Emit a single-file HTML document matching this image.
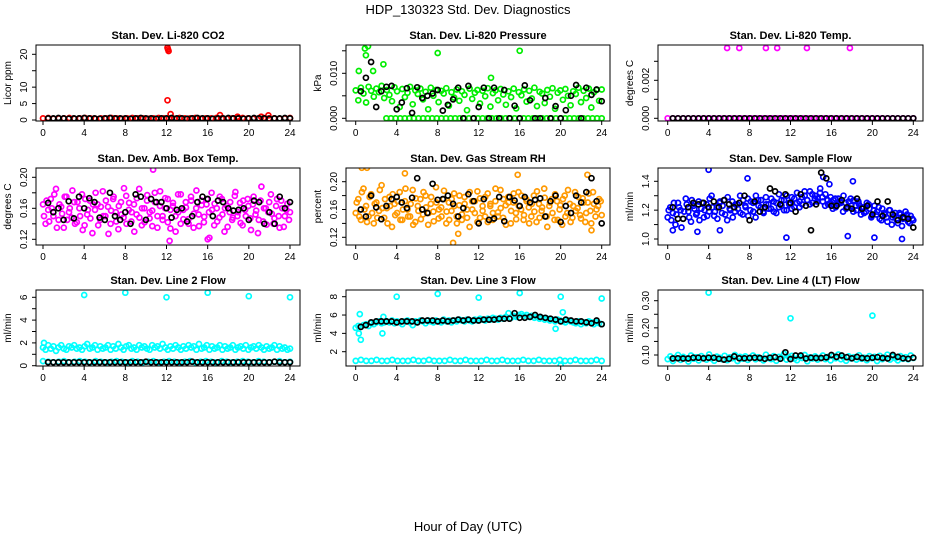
<!DOCTYPE html>
<html><head><meta charset="utf-8"><title>HDP_130323 Std. Dev. Diagnostics</title>
<style>
html,body{margin:0;padding:0;background:#fff;}
svg{display:block;font-family:"Liberation Sans",Arial,sans-serif;}
</style></head>
<body>
<svg id="chart" width="936" height="540" viewBox="0 0 936 540" xmlns="http://www.w3.org/2000/svg">
<text x="468" y="14" text-anchor="middle" font-size="13">HDP_130323  Std. Dev. Diagnostics</text>
<text x="468" y="531" text-anchor="middle" font-size="13">Hour of Day (UTC)</text>
</svg>
<script>
// ---------- data ----------
const hourTicks = [0,4,8,12,16,20,24];
const co2Color = [0.5,0.6,0.4,0.5,0.5,0.6,0.4,0.5,0.6,0.5,0.4,0.5,0.5,0.6,0.5,0.4,0.5,0.6,0.5,0.5,0.4,0.5,0.6,0.5,0.5,0.4,0.6,0.5,0.5,0.6,0.4,0.5,0.5,0.6,0.5,0.4,0.5,0.5,0.6,0.5,0.4,0.5,0.6,0.5,0.5,0.4,0.5,0.6];
const co2Black = [0.5,0.5,0.6,0.5,0.4,0.5,0.5,0.6,0.5,0.5,0.4,0.5,0.6,0.5,0.5,0.5,0.4,0.5,0.6,0.5,0.5,0.4,0.5,0.5,0.6,0.5,0.5,0.4,0.5,0.6,0.5,0.5,0.4,0.5,0.5,0.6,0.5,0.5,0.4,0.5,0.6,0.5,0.5,0.4,0.5,0.5,0.6,0.5];
const co2OutX = [12.1,12.15,12.2,12.1,12.4,17.2,18.9,21.2,21.9];
const co2OutY = [22,21.5,21,6,1.8,1.5,1.0,1.0,1.4];

const presColor = [0.0062,0.0040,0.0068,0.0055,0.0035,0.0070,0.0061,0.0048,0.0066,0.0058,0.0072,0.0045,0.0063,0.0052,0.0038,0.0069,0.0060,0.0025,0.0065,0.0047,0.0057,0.0070,0.0031,0.0062,0.0054,0.0066,0.0042,0.0059,0.0020,0.0068,0.0050,0.0063,0.0036,0.0061,0.0055,0.0067,0.0028,0.0058,0.0046,0.0064,0.0039,0.0060,0.0052,0.0018,0.0066,0.0043,0.0057,0.0063,0.0033,0.0061,0.0049,0.0067,0.0026,0.0056,0.0062,0.0040,0.0065,0.0053,0.0030,0.0060,0.0047,0.0066,0.0022,0.0058,0.0051,0.0064,0.0037,0.0061,0.0044,0.0068,0.0027,0.0059,0.0055,0.0034,0.0063,0.0048,0.0067,0.0021,0.0057,0.0062,0.0041,0.0065,0.0050,0.0029,0.0060,0.0054,0.0068,0.0036,0.0061,0.0045,0.0066,0.0024,0.0058,0.0063,0.0039,0.0064];
const presZeros = [0,0,0,0,0,0,0,0,0,0,0,0,0,0,0,0,0,0,0,0,0,0,0,0,0,0,0,0,0,0,0,0,0,0,0,0,0,0,0,0,0,0,0,0,0,0,0,0];
const presBlack = [0.0060,0.0090,0.0125,0.0025,0.0060,0.0070,0.0072,0.0020,0.0035,0.0067,0.0012,0.0069,0.0045,0.0050,0.0055,0.0063,0.0017,0.0030,0.0042,0.0068,0.0000,0.0072,0.0000,0.0025,0.0068,0.0000,0.0068,0.0000,0.0063,0.0000,0.0028,0.0000,0.0073,0.0040,0.0000,0.0000,0.0045,0.0000,0.0027,0.0000,0.0018,0.0050,0.0074,0.0000,0.0068,0.0052,0.0064,0.0038];
const presOutX = [0.9,1.2,1.0,8.0,16.0,24.0,0.3,1.7,2.7,13.2];
const presOutY = [0.0155,0.016,0.014,0.0145,0.015,0.017,0.0105,0.0105,0.012,0.009];

const tempColor = [0,0,0,0,0,0,0,0,0,0,0,0,0,0,0,0,0,0,0,0,0,0,0,0,0,0,0,0,0,0,0,0,0,0,0,0,0,0,0,0,0,0,0,0,0,0,0,0];
const tempBlack = [0,0,0,0,0,0,0,0,0,0,0,0,0,0,0,0,0,0,0,0,0,0,0,0,0,0,0,0,0,0,0,0,0,0,0,0,0,0,0,0,0,0,0,0,0,0,0,0];
const tempOutX = [5.8,7.0,9.6,10.7,13.6,17.8];
const tempOutY = [0.0037,0.0037,0.0037,0.0037,0.0037,0.0037];

const ambColor = [0.165,0.140,0.158,0.172,0.150,0.185,0.145,0.162,0.135,0.175,0.155,0.148,0.168,0.142,0.160,0.178,0.138,0.152,0.170,0.128,0.158,0.165,0.145,0.182,0.150,0.162,0.140,0.172,0.155,0.133,0.168,0.148,0.176,0.158,0.143,0.165,0.152,0.185,0.138,0.160,0.170,0.147,0.157,0.180,0.135,0.163,0.150,0.173,0.142,0.158,0.167,0.130,0.155,0.178,0.146,0.161,0.140,0.170,0.153,0.183,0.137,0.164,0.149,0.172,0.122,0.158,0.166,0.143,0.175,0.152,0.160,0.136,0.168,0.148,0.181,0.155,0.141,0.170,0.150,0.163,0.132,0.175,0.157,0.145,0.188,0.160,0.139,0.168,0.153,0.147,0.172,0.135,0.160,0.150,0.166,0.155];
const ambColor2 = [0.150,0.170,0.143,0.160,0.178,0.135,0.165,0.153,0.175,0.145,0.160,0.183,0.140,0.168,0.150,0.132,0.172,0.158,0.147,0.165,0.180,0.138,0.162,0.150,0.170,0.127,0.157,0.175,0.143,0.163,0.152,0.186,0.140,0.167,0.155,0.130,0.173,0.148,0.160,0.142,0.177,0.155,0.137,0.168,0.150,0.182,0.145,0.160,0.172,0.134,0.163,0.150,0.178,0.140,0.158,0.168,0.146,0.175,0.135,0.160,0.152,0.170,0.142,0.165,0.155,0.180,0.138,0.160,0.148,0.172,0.130,0.163,0.155,0.145,0.176,0.150,0.167,0.138,0.158,0.172,0.147,0.165,0.152,0.128,0.170,0.143,0.160,0.155,0.178,0.140,0.163,0.150,0.170,0.136,0.158,0.145];
const ambBlack = [0.167,0.155,0.160,0.145,0.169,0.147,0.175,0.160,0.173,0.168,0.148,0.145,0.180,0.150,0.145,0.155,0.140,0.178,0.175,0.145,0.172,0.168,0.168,0.160,0.148,0.158,0.160,0.143,0.150,0.168,0.175,0.172,0.150,0.170,0.168,0.160,0.157,0.158,0.160,0.145,0.170,0.168,0.140,0.155,0.140,0.175,0.160,0.168];
const ambOutX = [10.7,16.0,12.3];
const ambOutY = [0.21,0.12,0.118];

const rhColor = [0.155,0.175,0.145,0.190,0.165,0.150,0.182,0.140,0.170,0.158,0.195,0.148,0.162,0.178,0.135,0.168,0.155,0.185,0.145,0.172,0.160,0.150,0.188,0.142,0.165,0.175,0.153,0.180,0.138,0.168,0.157,0.192,0.147,0.163,0.175,0.140,0.170,0.158,0.183,0.150,0.166,0.145,0.178,0.160,0.135,0.172,0.155,0.186,0.148,0.165,0.178,0.142,0.168,0.155,0.190,0.150,0.162,0.175,0.138,0.170,0.158,0.183,0.146,0.165,0.180,0.152,0.172,0.140,0.168,0.157,0.186,0.148,0.163,0.177,0.135,0.170,0.155,0.182,0.145,0.166,0.175,0.150,0.188,0.142,0.165,0.158,0.178,0.147,0.170,0.155,0.183,0.140,0.168,0.160,0.175,0.152];
const rhColor2 = [0.170,0.150,0.185,0.160,0.142,0.178,0.155,0.168,0.148,0.188,0.162,0.175,0.140,0.165,0.182,0.152,0.172,0.145,0.160,0.190,0.150,0.168,0.138,0.176,0.158,0.146,0.185,0.163,0.155,0.178,0.143,0.170,0.160,0.150,0.187,0.157,0.145,0.175,0.165,0.140,0.180,0.153,0.168,0.148,0.185,0.160,0.172,0.142,0.176,0.158,0.150,0.183,0.165,0.145,0.172,0.156,0.188,0.148,0.166,0.178,0.140,0.170,0.155,0.185,0.160,0.145,0.175,0.163,0.150,0.180,0.142,0.168,0.158,0.190,0.150,0.165,0.175,0.145,0.172,0.160,0.138,0.180,0.155,0.168,0.148,0.185,0.162,0.152,0.176,0.142,0.170,0.158,0.185,0.150,0.165,0.172];
const rhBlack = [0.160,0.150,0.180,0.163,0.146,0.165,0.175,0.178,0.170,0.162,0.177,0.205,0.160,0.155,0.197,0.174,0.175,0.180,0.168,0.150,0.162,0.182,0.172,0.140,0.175,0.145,0.147,0.178,0.143,0.178,0.173,0.165,0.178,0.170,0.174,0.176,0.150,0.172,0.180,0.142,0.165,0.155,0.180,0.170,0.185,0.205,0.172,0.140];
const rhOutX = [0.6,1.1,9.5,23.0,22.6,4.8,10.0,15.8];
const rhOutY = [0.22,0.22,0.112,0.13,0.21,0.212,0.125,0.21];

const flowColor = [1.15,1.22,1.18,1.10,1.25,1.20,1.14,1.28,1.19,1.12,1.23,1.17,1.26,1.21,1.15,1.24,1.19,1.30,1.16,1.22,1.25,1.18,1.27,1.13,1.21,1.26,1.19,1.24,1.30,1.17,1.23,1.28,1.20,1.25,1.15,1.27,1.22,1.19,1.29,1.24,1.21,1.26,1.18,1.31,1.23,1.27,1.20,1.25,1.29,1.22,1.32,1.26,1.24,1.30,1.27,1.33,1.25,1.30,1.28,1.35,1.26,1.31,1.24,1.29,1.27,1.22,1.28,1.25,1.30,1.21,1.26,1.23,1.27,1.20,1.24,1.22,1.18,1.25,1.21,1.16,1.23,1.19,1.14,1.21,1.17,1.12,1.20,1.15,1.18,1.11,1.17,1.14,1.19,1.12,1.16,1.13];
const flowColor2 = [1.20,1.13,1.25,1.17,1.22,1.08,1.19,1.24,1.15,1.27,1.21,1.18,1.13,1.25,1.20,1.16,1.28,1.22,1.19,1.14,1.26,1.23,1.17,1.29,1.20,1.15,1.24,1.21,1.18,1.27,1.22,1.16,1.26,1.19,1.30,1.23,1.27,1.18,1.24,1.21,1.28,1.19,1.25,1.22,1.27,1.20,1.30,1.24,1.21,1.28,1.25,1.22,1.29,1.33,1.27,1.24,1.31,1.28,1.26,1.32,1.29,1.23,1.27,1.25,1.21,1.28,1.24,1.26,1.19,1.25,1.22,1.28,1.19,1.23,1.26,1.17,1.22,1.19,1.24,1.15,1.20,1.17,1.22,1.13,1.18,1.15,1.20,1.10,1.16,1.13,1.18,1.09,1.15,1.17,1.11,1.14];
const flowBlack = [1.22,1.14,1.14,1.22,1.25,1.24,1.25,1.22,1.26,1.22,1.27,1.24,1.22,1.25,1.30,1.13,1.26,1.19,1.22,1.35,1.33,1.24,1.31,1.25,1.19,1.31,1.23,1.06,1.24,1.46,1.42,1.23,1.23,1.27,1.22,1.21,1.28,1.21,1.23,1.17,1.26,1.16,1.26,1.17,1.13,1.15,1.14,1.08];
const flowOutX = [0.5,2.9,4.0,5.1,7.8,11.6,15.2,15.8,17.6,18.1,20.2,22.9];
const flowOutY = [1.06,1.05,1.48,1.06,1.42,1.01,1.43,1.38,1.02,1.40,1.01,1.00];

const line2Color = [1.6,1.4,1.8,1.5,1.7,1.3,1.6,1.8,1.5,1.4,1.7,1.6,1.8,1.5,1.6,1.4,1.7,1.9,1.5,1.6,1.8,1.4,1.7,1.5,1.6,1.8,1.4,1.7,1.5,1.9,1.6,1.4,1.7,1.8,1.5,1.6,1.4,1.8,1.6,1.7,1.5,1.4,1.8,1.6,1.7,1.5,1.9,1.6,1.4,1.7,1.5,1.8,1.6,1.4,1.7,1.5,1.8,1.6,1.7,1.4,1.9,1.5,1.6,1.8,1.4,1.7,1.5,1.6,1.8,1.4,1.7,1.5,1.6,1.8,1.4,1.6,1.7,1.5,1.8,1.4,1.6,1.7,1.5,1.8,1.6,1.4,1.7,1.5,1.6,1.8,1.4,1.7,1.5,1.6,1.4,1.5];
const line2Low = [0.4,0.35,0.3,0.35,0.4,0.3,0.35,0.4,0.35,0.3,0.4,0.35,0.3,0.35,0.4,0.35,0.3,0.4,0.35,0.3,0.35,0.4,0.3,0.35,0.4,0.35,0.3,0.35,0.4,0.3,0.35,0.4,0.35,0.3,0.4,0.35,0.3,0.35,0.4,0.35,0.3,0.4,0.35,0.3,0.35,0.4,0.3,0.35];
const line2Black = [0.3,0.3,0.3,0.3,0.3,0.3,0.3,0.3,0.3,0.3,0.3,0.3,0.3,0.3,0.3,0.3,0.3,0.3,0.3,0.35,0.3,0.3,0.3,0.3,0.3,0.3,0.3,0.3,0.35,0.3,0.3,0.3,0.3,0.3,0.3,0.3,0.3,0.3,0.3,0.3,0.3,0.3,0.3,0.3,0.35,0.3,0.3,0.3];
const line2OutX = [0.1,4.0,8.0,12.0,16.0,20.0,24.0];
const line2OutY = [2.0,6.2,6.4,6.0,6.4,6.1,6.0];

const line3Color = [4.6,4.8,4.7,4.9,5.0,4.8,5.1,5.0,5.2,5.3,5.1,5.2,5.3,5.2,5.4,5.1,5.3,5.2,5.0,5.3,5.4,5.2,4.9,5.3,5.2,5.4,5.3,5.1,5.4,5.3,5.2,5.4,5.3,5.2,5.5,5.3,5.4,5.2,5.4,5.3,5.5,5.4,5.3,5.5,5.4,5.3,5.5,5.4,5.6,5.5,5.4,5.6,5.5,5.7,5.6,5.5,5.7,5.6,5.8,6.2,5.7,5.9,5.8,6.0,6.1,5.9,6.0,5.8,5.9,5.7,5.8,5.6,5.7,5.5,5.6,5.4,5.5,5.3,5.5,5.4,5.3,5.2,5.4,5.3,5.2,5.1,5.3,5.0,5.2,5.1,5.3,5.2,5.0,5.2,5.1,5.0];
const line3Low = [1.0,1.1,1.0,1.0,1.1,1.0,1.0,1.1,1.0,1.0,1.0,1.1,1.0,1.0,1.1,1.0,1.0,1.0,1.1,1.0,1.0,1.1,1.0,1.0,1.0,1.1,1.0,1.0,1.1,1.0,1.0,1.0,1.1,1.0,1.0,1.1,1.0,1.0,1.0,1.1,1.0,1.0,1.1,1.0,1.0,1.0,1.1,1.0];
const line3Black = [4.7,4.9,5.2,5.3,5.3,5.3,5.3,5.2,5.3,5.3,5.3,5.2,5.4,5.4,5.4,5.3,5.4,5.3,5.4,5.5,5.4,5.5,5.4,5.4,5.5,5.5,5.5,5.6,5.6,5.6,6.2,5.7,5.7,5.8,6.0,5.8,5.7,5.6,5.5,5.3,5.5,5.4,5.3,5.3,5.2,5.1,5.4,5.0];
const line3OutX = [4.0,8.0,12.0,16.0,20.0,24.0,0.4,0.5,0.3,2.6,2.7,19.5,20.0,20.2];
const line3OutY = [8.0,8.3,7.9,8.4,8.0,7.8,6.1,3.3,4.0,4.0,5.8,4.5,0.5,6.3];

const line4Color = [0.085,0.095,0.078,0.090,0.100,0.082,0.093,0.088,0.076,0.098,0.086,0.092,0.080,0.096,0.089,0.083,0.102,0.087,0.079,0.094,0.090,0.084,0.097,0.081,0.091,0.088,0.100,0.078,0.093,0.086,0.095,0.082,0.090,0.098,0.084,0.092,0.087,0.080,0.101,0.089,0.085,0.096,0.079,0.093,0.088,0.104,0.083,0.091,0.097,0.086,0.081,0.094,0.089,0.100,0.077,0.092,0.087,0.095,0.083,0.090,0.098,0.085,0.093,0.080,0.096,0.088,0.102,0.084,0.091,0.079,0.095,0.087,0.092,0.083,0.099,0.086,0.090,0.081,0.096,0.088,0.093,0.078,0.097,0.085,0.091,0.101,0.083,0.094,0.088,0.080,0.096,0.086,0.092,0.084,0.098,0.089];
const line4Black = [0.087,0.088,0.087,0.087,0.090,0.090,0.088,0.090,0.090,0.086,0.083,0.086,0.095,0.088,0.088,0.089,0.090,0.089,0.086,0.090,0.092,0.086,0.110,0.085,0.098,0.098,0.087,0.090,0.089,0.089,0.091,0.100,0.093,0.098,0.092,0.088,0.093,0.089,0.088,0.090,0.092,0.089,0.087,0.100,0.093,0.088,0.086,0.090];
const line4OutX = [4.0,12.0,20.0];
const line4OutY = [0.33,0.235,0.245];

// ---------- drawing ----------
const NS = 'http://www.w3.org/2000/svg';
const svg = document.getElementById('chart');
const cols = [{l:36,r:300,x0:43,x24:290},{l:346,r:610,x0:355.7,x24:601.7},{l:658,r:923,x0:667.7,x24:913.3}];
const rows = [{t:45,b:121},{t:168,b:245},{t:290,b:366}];

function mk(tag, attrs, parent){
  const e = document.createElementNS(NS, tag);
  for (const k in attrs) e.setAttribute(k, attrs[k]);
  (parent||svg).appendChild(e);
  return e;
}

function panel(ci, ri, opt){
  const c = cols[ci], r = rows[ri];
  const g = mk('g', {});
  
  
  const xs = h => c.x0 + (c.x24 - c.x0) * h / 24;
  const ys = v => opt.yA.p + (v - opt.yA.v) * (opt.yB.p - opt.yA.p) / (opt.yB.v - opt.yA.v);
  const t = mk('text', {x:(c.l+c.r)/2, y:r.t-6, 'text-anchor':'middle', 'font-size':'11', 'font-weight':'bold'}, g);
  t.textContent = opt.title;
  
  
  const clipId = 'clip' + ci + ri;
  const cp = mk('clipPath', {id:clipId}, g);
  mk('rect', {x:c.l, y:r.t, width:c.r-c.l, height:r.b-r.t}, cp);
  const pts = mk('g', {'clip-path':'url(#'+clipId+')', fill:'none', 'stroke-width':'1.7'}, g);
  
  
  function series(vals, color, x0, x1){
    const n = vals.length;
    for (let i = 0; i < n; i++){
      const h = x0 + (x1 - x0) * i / (n - 1);
      const ci2 = mk('circle', {cx:xs(h).toFixed(1), cy:ys(vals[i]).toFixed(1), r:'2.5', stroke:color}, pts);
      
      
    }
  }
  function outliers(X, Y, color){
    for (let i = 0; i < X.length; i++){
      const ci2 = mk('circle', {cx:xs(X[i]).toFixed(1), cy:ys(Y[i]).toFixed(1), r:'2.5', stroke:color}, pts);
      
      
    }
  }
  opt.draw(series, outliers);
  const box = mk('rect', {x:c.l, y:r.t, width:c.r-c.l, height:r.b-r.t, fill:'none', stroke:'#000', 'stroke-width':'1'}, g);
  
  
  const xa = mk('g', {}, g);
  
  
  hourTicks.forEach(h => {
    mk('line', {x1:xs(h), x2:xs(h), y1:r.b, y2:r.b+4, stroke:'#000'}, xa);
    const tl = mk('text', {x:xs(h), y:r.b+15, 'text-anchor':'middle', 'font-size':'10'}, xa);
    tl.textContent = h;
  });
  const ya = mk('g', {}, g);
  
  
  opt.yTicks.forEach(v => {
    const p = ys(v);
    mk('line', {x1:c.l-4, x2:c.l, y1:p, y2:p, stroke:'#000'}, ya);
  });
  opt.yLabels.forEach((lab, i) => {
    const p = ys(opt.yLabelVals[i]);
    const tl = mk('text', {x:c.l-9, y:p, 'text-anchor':'middle', 'font-size':'10', transform:'rotate(-90 '+(c.l-9)+' '+p+')'}, ya);
    tl.textContent = lab;
  });
  const yt = mk('text', {x:c.l-25, y:(r.t+r.b)/2, 'text-anchor':'middle', 'font-size':'10', transform:'rotate(-90 '+(c.l-25)+' '+((r.t+r.b)/2)+')'}, g);
  yt.textContent = opt.yTitle;
  
  
}

panel(0,0,{name:'co2', title:'Stan. Dev. Li-820 CO2', yTitle:'Licor ppm',
  yA:{v:0,p:120}, yB:{v:20,p:54.3}, yTicks:[0,5,10,15,20], yLabelVals:[0,5,10,20], yLabels:['0','5','10','20'],
  draw:(s,o)=>{ s(co2Color,'#ff0000',0,24); o(co2OutX,co2OutY,'#ff0000'); s(co2Black,'#000',0.5,24); }});
panel(1,0,{name:'pressure', title:'Stan. Dev. Li-820 Pressure', yTitle:'kPa',
  yA:{v:0,p:118.3}, yB:{v:0.01,p:73.3}, yTicks:[0,0.005,0.01,0.015], yLabelVals:[0,0.01], yLabels:['0.000','0.010'],
  draw:(s,o)=>{ s(presColor,'#00ee00',0,24); s(presZeros,'#00ee00',3,24); o(presOutX,presOutY,'#00ee00'); s(presBlack,'#000',0.5,24); }});
panel(2,0,{name:'temp', title:'Stan. Dev. Li-820 Temp.', yTitle:'degrees C',
  yA:{v:0,p:118.3}, yB:{v:0.002,p:80.3}, yTicks:[0,0.001,0.002,0.003], yLabelVals:[0,0.002], yLabels:['0.000','0.002'],
  draw:(s,o)=>{ s(tempColor,'#ff00ff',0,24); o(tempOutX,tempOutY,'#ff00ff'); s(tempBlack,'#000',0.5,24); }});
panel(0,1,{name:'amb-box-temp', title:'Stan. Dev. Amb. Box Temp.', yTitle:'degrees C',
  yA:{v:0.12,p:239.3}, yB:{v:0.20,p:177.3}, yTicks:[0.12,0.14,0.16,0.18,0.20], yLabelVals:[0.12,0.16,0.20], yLabels:['0.12','0.16','0.20'],
  draw:(s,o)=>{ s(ambColor,'#ff00ff',0,24); s(ambColor2,'#ff00ff',0.1,23.9); o(ambOutX,ambOutY,'#ff00ff'); s(ambBlack,'#000',0.5,24); }});
panel(1,1,{name:'gas-stream-rh', title:'Stan. Dev. Gas Stream RH', yTitle:'percent',
  yA:{v:0.12,p:237.3}, yB:{v:0.20,p:181.7}, yTicks:[0.12,0.14,0.16,0.18,0.20], yLabelVals:[0.12,0.16,0.20], yLabels:['0.12','0.16','0.20'],
  draw:(s,o)=>{ s(rhColor,'#ff9900',0,24); s(rhColor2,'#ff9900',0.1,23.9); o(rhOutX,rhOutY,'#ff9900'); s(rhBlack,'#000',0.5,24); }});
panel(2,1,{name:'sample-flow', title:'Stan. Dev. Sample Flow', yTitle:'ml/min',
  yA:{v:1.0,p:239}, yB:{v:1.4,p:181.3}, yTicks:[1.0,1.1,1.2,1.3,1.4], yLabelVals:[1.0,1.2,1.4], yLabels:['1.0','1.2','1.4'],
  draw:(s,o)=>{ s(flowColor,'#0000ff',0,24); s(flowColor2,'#0000ff',0.1,23.9); o(flowOutX,flowOutY,'#0000ff'); s(flowBlack,'#000',0.5,24); }});
panel(0,2,{name:'line2-flow', title:'Stan. Dev. Line 2 Flow', yTitle:'ml/min',
  yA:{v:0,p:365.7}, yB:{v:6,p:297.3}, yTicks:[0,1,2,3,4,5,6], yLabelVals:[0,2,4,6], yLabels:['0','2','4','6'],
  draw:(s,o)=>{ s(line2Color,'#00ffff',0,24); s(line2Low,'#00ffff',0,24); o(line2OutX,line2OutY,'#00ffff'); s(line2Black,'#000',0.5,24); }});
panel(1,2,{name:'line3-flow', title:'Stan. Dev. Line 3 Flow', yTitle:'ml/min',
  yA:{v:2,p:351.7}, yB:{v:8,p:296.7}, yTicks:[2,4,6,8], yLabelVals:[2,4,6,8], yLabels:['2','4','6','8'],
  draw:(s,o)=>{ s(line3Color,'#00ffff',0,24); s(line3Low,'#00ffff',0,24); o(line3OutX,line3OutY,'#00ffff'); s(line3Black,'#000',0.5,24); }});
panel(2,2,{name:'line4-flow', title:'Stan. Dev. Line 4 (LT) Flow', yTitle:'ml/min',
  yA:{v:0.10,p:355}, yB:{v:0.30,p:300.7}, yTicks:[0.10,0.15,0.20,0.25,0.30], yLabelVals:[0.10,0.20,0.30], yLabels:['0.10','0.20','0.30'],
  draw:(s,o)=>{ s(line4Color,'#00ffff',0,24); o(line4OutX,line4OutY,'#00ffff'); s(line4Black,'#000',0.5,24); }});
</script>
</body></html>
